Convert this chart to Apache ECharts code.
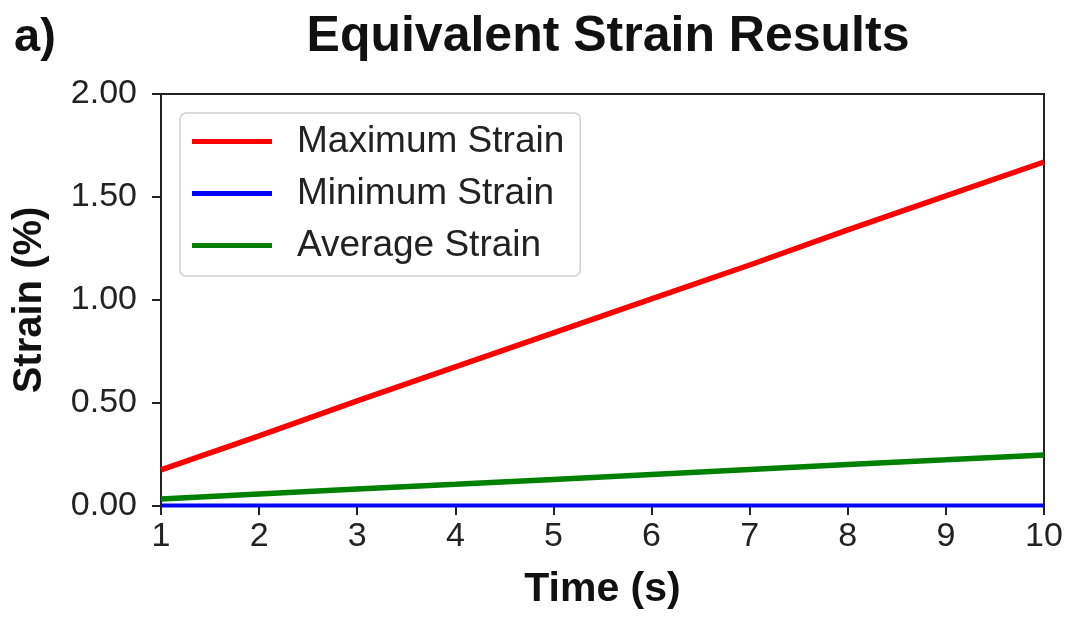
<!DOCTYPE html>
<html><head><meta charset="utf-8">
<script src="https://cdn.jsdelivr.net/npm/echarts@6/dist/echarts.min.js"></script>
<style>html,body{margin:0;padding:0;background:#fff}#c{width:1067px;height:617px}</style>
</head><body><div id="c"></div>
<script>
const times = [1,2,3,4,5,6,7,8,9,10];
const maxStrain = [0.175,0.34,0.51,0.675,0.84,1.005,1.17,1.34,1.505,1.67];
const minStrain = [0.002,0.002,0.002,0.002,0.002,0.002,0.002,0.002,0.002,0.002];
const avgStrain = [0.034,0.058,0.082,0.105,0.129,0.153,0.177,0.201,0.224,0.248];
const seriesNames = ['Maximum Strain','Minimum Strain','Average Strain'];
const yTicks = ['0.00','0.50','1.00','1.50','2.00'];

const font = 'Liberation Sans, Arial, sans-serif';
const chart = echarts.init(document.getElementById('c'));
const pair = a => times.map((t,i)=>[t,a[i]]);
chart.setOption({
  animation:false,
  textStyle:{fontFamily:font},
  title:[
    {text:'Equivalent Strain Results',left:603,top:7,textAlign:'center',
     textStyle:{fontSize:50,fontWeight:'bold',color:'#111',fontFamily:font}},
    {text:'a)',left:9,top:10,textStyle:{fontSize:47,fontWeight:'bold',color:'#111',fontFamily:font}}
  ],
  grid:{left:161,right:23,top:94,bottom:111,show:true,borderColor:'#222',borderWidth:2,backgroundColor:'#fff'},
  legend:{
    orient:'vertical',left:180,top:113,
    data:seriesNames,
    icon:'rect',itemWidth:80,itemHeight:5,itemGap:15,
    padding:[10,16,12,12],
    borderColor:'#d0d0d0',borderWidth:1.5,borderRadius:6,backgroundColor:'#fff',
    textStyle:{fontSize:37,color:'#222',fontFamily:font,padding:[0,0,0,20]}
  },
  xAxis:{
    type:'value',min:1,max:10,interval:1,
    name:'Time (s)',nameLocation:'middle',nameGap:63,
    nameTextStyle:{fontSize:41,fontWeight:'bold',color:'#111',fontFamily:font},
    axisLine:{show:true,lineStyle:{color:'#222',width:2}},
    axisTick:{show:true,length:9,lineStyle:{color:'#222',width:2}},
    axisLabel:{fontSize:34,color:'#222',margin:14,fontFamily:font},
    splitLine:{show:false}
  },
  yAxis:{
    type:'value',min:0,max:2,interval:0.5,
    name:'Strain (%)',nameLocation:'middle',nameGap:111,
    nameTextStyle:{fontSize:40,fontWeight:'bold',color:'#111',fontFamily:font},
    axisLine:{show:true,lineStyle:{color:'#222',width:2}},
    axisTick:{show:true,length:9,lineStyle:{color:'#222',width:2}},
    axisLabel:{fontSize:34,color:'#222',margin:24,fontFamily:font,
      formatter:v=>yTicks[Math.round(v/0.5)]},
    splitLine:{show:false}
  },
  series:[
    {name:seriesNames[0],type:'line',data:pair(maxStrain),showSymbol:false,lineStyle:{color:'#ff0000',width:5.5},itemStyle:{color:'#ff0000'}},
    {name:seriesNames[1],type:'line',data:pair(minStrain),showSymbol:false,lineStyle:{color:'#0000ff',width:4},itemStyle:{color:'#0000ff'}},
    {name:seriesNames[2],type:'line',data:pair(avgStrain),showSymbol:false,lineStyle:{color:'#008000',width:5.5},itemStyle:{color:'#008000'}}
  ]
});
</script></body></html>
